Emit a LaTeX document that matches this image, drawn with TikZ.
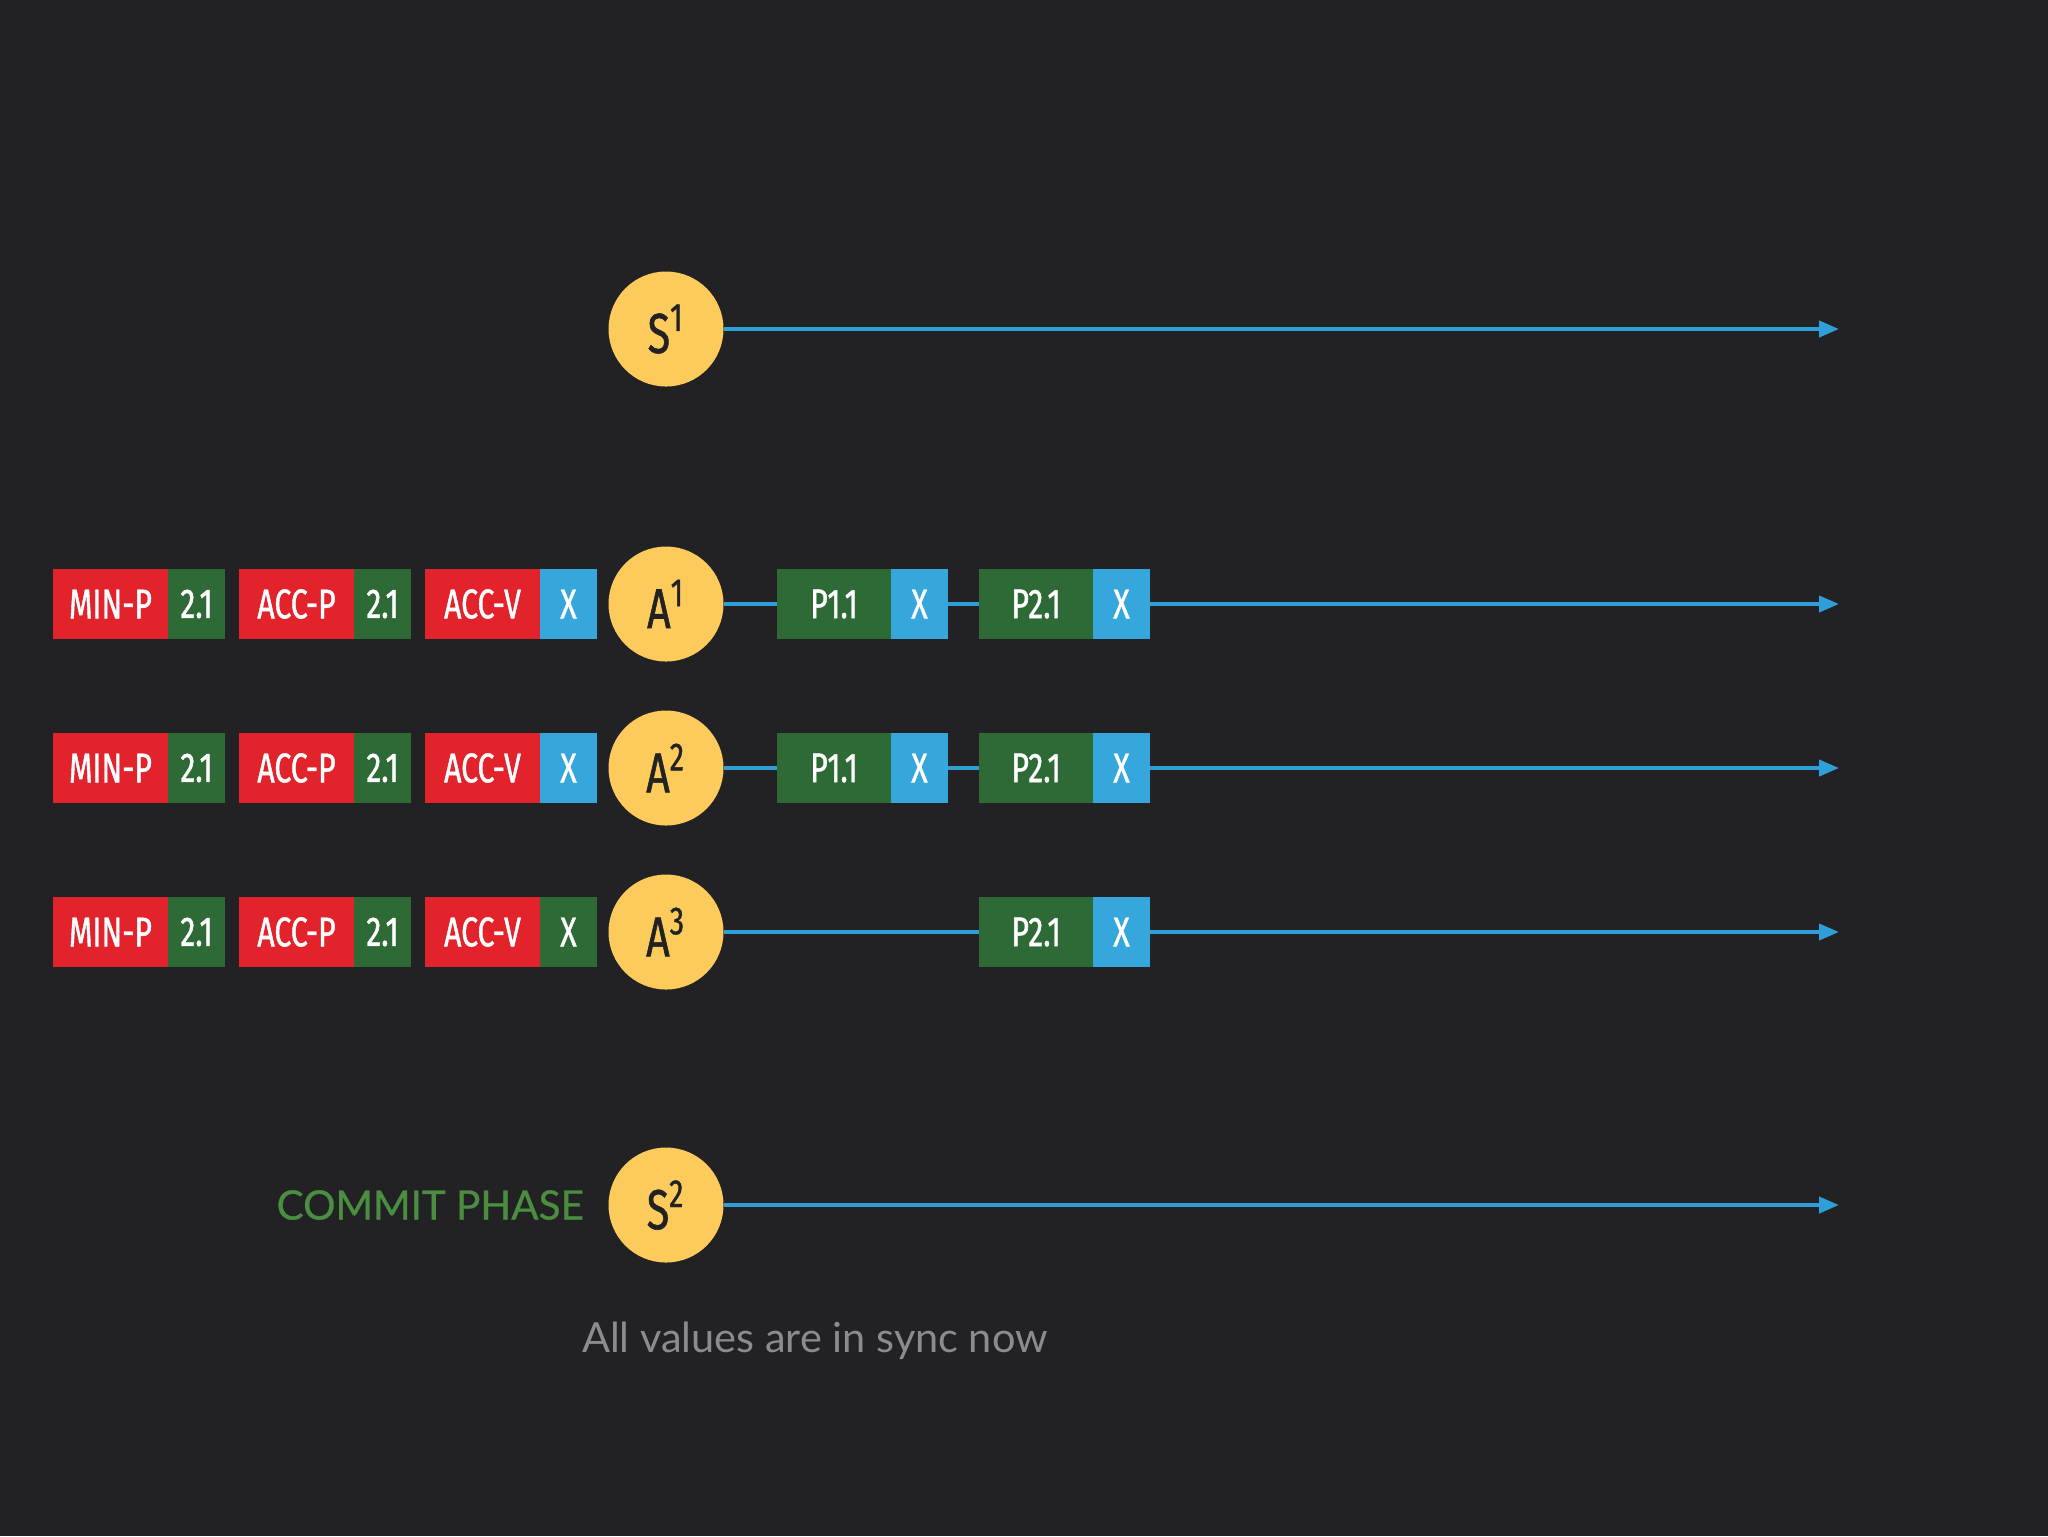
\documentclass[tikz,border=0pt]{standalone}
\usepackage{fontspec}
\setmainfont{Lato}
\newfontfamily\dinfont[FakeStretch=0.73, FakeBold=1]{Fira Sans}
\newfontfamily\phasefont[FakeBold=0.8]{Lato}
\usetikzlibrary{positioning,arrows.meta}

\definecolor{bgdark}{HTML}{222224}
\definecolor{accred}{HTML}{E2232C}
\definecolor{accgreen}{HTML}{2E6A35}
\definecolor{accblue}{HTML}{36A7DD}
\definecolor{nodeyellow}{HTML}{FDCB5B}
\definecolor{linkblue}{HTML}{2E9FD9}
\definecolor{phasegreen}{HTML}{4B8D41}
\definecolor{notegray}{HTML}{8C8C8E}

\begin{document}
\begin{tikzpicture}[%
    x=0.1mm, y=-0.1mm,          % one unit is one pixel of the slide, y going down
    node distance=1.4mm and 1.4mm, % gap between two message pairs
    ]
% -------------------------------------------------
% Box, node and line styles
\tikzset{
  base/.style={inner sep=0pt, outer sep=0pt, minimum height=7mm, text=white,
               font=\dinfont\fontsize{11.8}{12}\selectfont},
  key/.style={base, fill=accred, minimum width=11.5mm},
  val/.style={base, minimum width=5.7mm},
  ok/.style={val, fill=accgreen},
  nack/.style={val, fill=accblue},
  pkey/.style={base, fill=accgreen, minimum width=11.4mm},
  actor/.style={circle, fill=nodeyellow, minimum size=11.5mm, inner sep=0pt,
                outer sep=0pt, text=bgdark,
                font=\dinfont\fontsize{16}{17}\selectfont},
  link/.style={draw=linkblue, line width=0.4mm},
  timeline/.style={link, -{Triangle[length=2mm, width=1.6mm]}},
  phase/.style={inner sep=0pt, text=phasegreen, font=\phasefont\fontsize{11.5}{14}\selectfont},
  note/.style={text=notegray, font=\fontsize{11.8}{14}\selectfont}
}
\fill[bgdark] (0,0) rectangle (2048,1536);
\useasboundingbox (0,0) rectangle (2048,1536);
% -------------------------------------------------
% Actors and sequencers
\node [actor] (s1) at (666,329) {S\textsuperscript{1}};
\node [actor] (a1) at (666,604) {A\textsuperscript{1}};
\node [actor] (a2) at (666,768) {A\textsuperscript{2}};
\node [actor] (a3) at (666,932) {A\textsuperscript{3}};
\node [actor] (s2) at (666,1205) {S\textsuperscript{2}};

% State kept by A1
\node [key] (a1min) at (110.5,604) {MIN-P};
\node [ok, right=0pt of a1min] (a1minv) {2.1};
\node [key, right=of a1minv] (a1accp) {ACC-P};
\node [ok, right=0pt of a1accp] (a1accpv) {2.1};
\node [key, right=of a1accpv] (a1accv) {ACC-V};
\node [nack, right=0pt of a1accv] (a1accvv) {X};
% State kept by A2
\node [key] (a2min) at (110.5,768) {MIN-P};
\node [ok, right=0pt of a2min] (a2minv) {2.1};
\node [key, right=of a2minv] (a2accp) {ACC-P};
\node [ok, right=0pt of a2accp] (a2accpv) {2.1};
\node [key, right=of a2accpv] (a2accv) {ACC-V};
\node [nack, right=0pt of a2accv] (a2accvv) {X};
% State kept by A3
\node [key] (a3min) at (110.5,932) {MIN-P};
\node [ok, right=0pt of a3min] (a3minv) {2.1};
\node [key, right=of a3minv] (a3accp) {ACC-P};
\node [ok, right=0pt of a3accp] (a3accpv) {2.1};
\node [key, right=of a3accpv] (a3accv) {ACC-V};
\node [ok, right=0pt of a3accv] (a3accvv) {X};

% Messages on the time lines
\node [pkey] (a1p1) at (834,604) {P1.1};
\node [nack, right=0pt of a1p1] (a1p1v) {X};
\node [pkey, right=3.1mm of a1p1v] (a1p2) {P2.1};
\node [nack, right=0pt of a1p2] (a1p2v) {X};
\node [pkey] (a2p1) at (834,768) {P1.1};
\node [nack, right=0pt of a2p1] (a2p1v) {X};
\node [pkey, right=3.1mm of a2p1v] (a2p2) {P2.1};
\node [nack, right=0pt of a2p2] (a2p2v) {X};
\node [pkey] (a3p2) at (1036,932) {P2.1};
\node [nack, right=0pt of a3p2] (a3p2v) {X};

\node [phase, left=2.4mm of s2] (commit) {COMMIT PHASE};
\node [note] (sync) at (815,1341) {All values are in sync now};

% Ends of the time lines
\coordinate (s1end) at (1839,329);
\coordinate (a1end) at (1839,604);
\coordinate (a2end) at (1839,768);
\coordinate (a3end) at (1839,932);
\coordinate (s2end) at (1839,1205);

\draw[timeline] (s1) to (s1end);	%S1
\draw[link] (a1) to (a1p1);		%A1,P1.1
\draw[link] (a1p1v) to (a1p2);		%P1.1,P2.1
\draw[timeline] (a1p2v) to (a1end);	%P2.1,end
\draw[link] (a2) to (a2p1);		%A2,P1.1
\draw[link] (a2p1v) to (a2p2);		%P1.1,P2.1
\draw[timeline] (a2p2v) to (a2end);	%P2.1,end
\draw[link] (a3) to (a3p2);		%A3,P2.1
\draw[timeline] (a3p2v) to (a3end);	%P2.1,end
\draw[timeline] (s2) to (s2end);	%S2

% -------------------------------------------------
\end{tikzpicture}
\end{document}
